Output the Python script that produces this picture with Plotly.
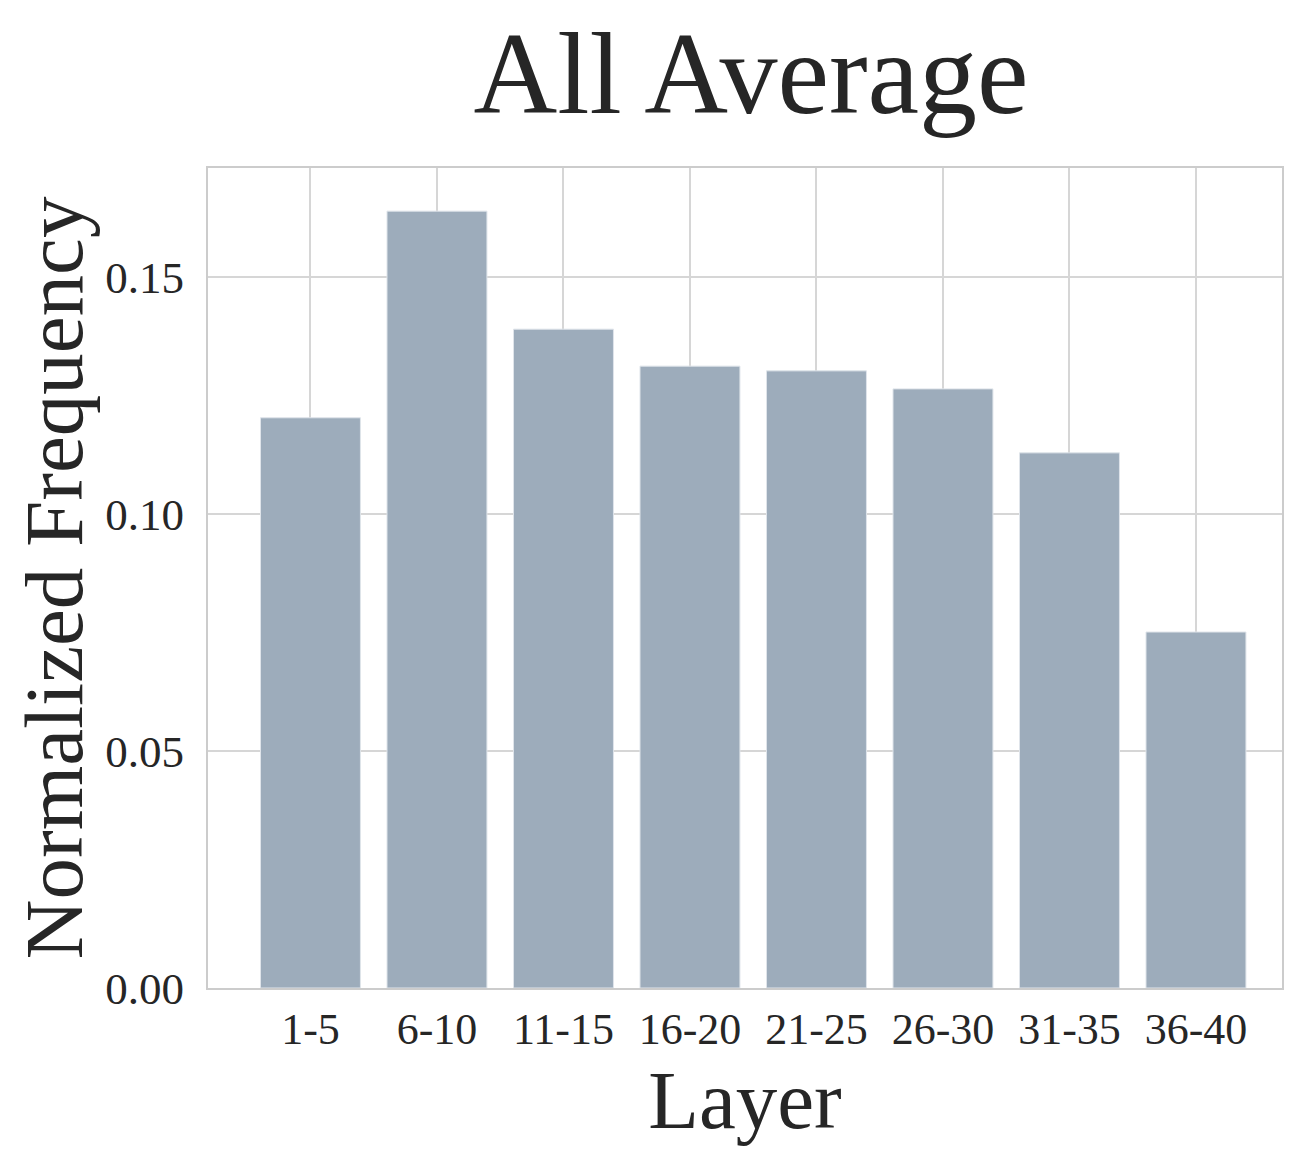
import plotly.graph_objects as go

layers = ["1-5", "6-10", "11-15", "16-20", "21-25", "26-30", "31-35", "36-40"]
freq = [0.1203, 0.1639, 0.1390, 0.1312, 0.1302, 0.1264, 0.1129, 0.0751]
y_ticks = [0.00, 0.05, 0.10, 0.15]
y_tick_labels = ["0.00", "0.05", "0.10", "0.15"]

FONT = "Liberation Serif"
TXT = "#262626"

fig = go.Figure(go.Bar(
    x=list(range(len(layers))), y=freq,
    marker=dict(color="#9dacbb", line=dict(color="#dfe4ea", width=1)),
    width=0.79,
))

fig.update_layout(
    width=1316, height=1169,
    margin=dict(l=200, r=42, t=160, b=189),
    plot_bgcolor="white", paper_bgcolor="white",
    font=dict(family=FONT, color=TXT),
    showlegend=False,
    title=dict(text="All Average", x=743 / 1316, xanchor="center",
               y=1 - 64 / 1169, yanchor="middle", yref="container",
               font=dict(family=FONT, size=116, color=TXT)),
)
fig.update_xaxes(
    tickmode="array", tickvals=list(range(len(layers))), ticktext=layers,
    range=[-0.81, 7.68],
    tickfont=dict(family=FONT, size=44, color=TXT),
    showgrid=True, gridcolor="#d6d6d6", gridwidth=2,
    showline=True, linecolor="#cccccc", linewidth=2, mirror=True,
    ticks="", ticklabelstandoff=1,
    title=dict(text="Layer", font=dict(family=FONT, size=83, color=TXT), standoff=2),
    zeroline=False,
)
fig.update_yaxes(
    tickmode="array", tickvals=y_ticks, ticktext=y_tick_labels,
    range=[0, 0.173],
    tickfont=dict(family=FONT, size=45, color=TXT),
    showgrid=True, gridcolor="#d6d6d6", gridwidth=2,
    showline=True, linecolor="#cccccc", linewidth=2, mirror=True,
    ticks="", ticklabelstandoff=13,
    title=dict(text="Normalized Frequency", font=dict(family=FONT, size=83, color=TXT), standoff=15),
    zeroline=False,
)

fig.write_html("out.html")
